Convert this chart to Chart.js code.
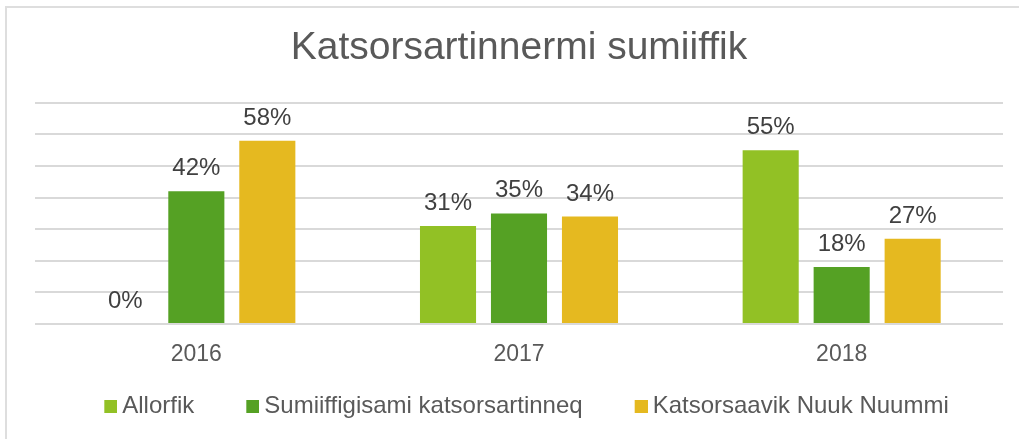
<!DOCTYPE html>
<html>
<head>
<meta charset="utf-8">
<script src="https://cdn.jsdelivr.net/npm/chart.js@4.4.1/dist/chart.umd.min.js"></script>
<style>
  html, body { margin: 0; padding: 0; background: #ffffff; }
  #wrap { position: relative; width: 1019px; height: 439px; overflow: hidden; }
  #frame { position: absolute; left: 5px; top: 6px; width: 1100px; height: 500px; border: 2px solid #dedede; box-sizing: border-box; }
  #c { position: absolute; left: 0; top: 0; }
</style>
</head>
<body>
<div id="wrap">
  <div id="frame"></div>
  <canvas id="c" width="1019" height="439"></canvas>
</div>
<script>
const title = "Katsorsartinnermi sumiiffik";
const categories = ["2016", "2017", "2018"];
const seriesNames = ["Allorfik", "Sumiiffigisami katsorsartinneq", "Katsorsaavik Nuuk Nuummi"];
const allorfik = [0, 31, 55];
const sumiiffigisami = [42, 35, 18];
const nuummi = [58, 34, 27];
const colors = ["#92C125", "#55A124", "#E5B920"];

const FONT = "'Liberation Sans', Arial, sans-serif";
const TEXT = "#595959";
const SLOT = 21, SQ = 13, EXT = 7;

function swatch(color) {
  const cv = document.createElement('canvas');
  cv.width = SLOT + 2 * EXT; cv.height = SQ;
  const g = cv.getContext('2d');
  g.fillStyle = color;
  g.fillRect(cv.width - SQ, 0, SQ, SQ);
  return cv;
}
const swatches = colors.map(swatch);

const valueLabels = {
  id: 'valueLabels',
  afterDatasetsDraw(chart) {
    const ctx = chart.ctx;
    ctx.save();
    ctx.font = "24px " + FONT;
    ctx.fillStyle = "#404040";
    ctx.textAlign = "center";
    ctx.textBaseline = "alphabetic";
    chart.data.datasets.forEach((ds, i) => {
      const meta = chart.getDatasetMeta(i);
      meta.data.forEach((bar, j) => {
        ctx.fillText(ds.data[j] + "%", bar.x, bar.y - 16);
      });
    });
    ctx.restore();
  }
};

new Chart(document.getElementById('c'), {
  type: 'bar',
  data: {
    labels: categories,
    datasets: [
      { label: seriesNames[0], data: allorfik, backgroundColor: colors[0] },
      { label: seriesNames[1], data: sumiiffigisami, backgroundColor: colors[1] },
      { label: seriesNames[2], data: nuummi, backgroundColor: colors[2] }
    ]
  },
  options: {
    responsive: false,
    animation: false,
    devicePixelRatio: 1,
    layout: { padding: { left: 35, right: 16, top: 0, bottom: 10.5 } },
    datasets: { bar: { categoryPercentage: 0.66, barPercentage: 0.79 } },
    scales: {
      x: {
        grid: { display: false, drawTicks: false },
        border: { display: false },
        ticks: { color: TEXT, font: { family: FONT, size: 23 }, padding: 17 }
      },
      y: {
        min: 0, max: 70,
        ticks: { display: false, stepSize: 10 },
        grid: { color: "#d9d9d9", lineWidth: 2, drawTicks: false },
        border: { display: false }
      }
    },
    plugins: {
      title: {
        display: true, text: title, color: TEXT,
        font: { family: FONT, size: 39, weight: 'normal' },
        padding: { top: 25, bottom: 31 }
      },
      legend: {
        position: 'bottom',
        title: { display: true, text: '', font: { size: 1, lineHeight: 1.2 }, padding: { top: -29.3, bottom: 0 } },
        labels: {
          color: TEXT, font: { family: FONT, size: 24 },
          usePointStyle: true, pointStyleWidth: SLOT, boxHeight: SQ,
          padding: 37,
          generateLabels(chart) {
            const items = Chart.defaults.plugins.legend.labels.generateLabels(chart);
            items.forEach(it => { it.pointStyle = swatches[it.datasetIndex]; });
            return items;
          }
        }
      },
      tooltip: { enabled: false }
    }
  },
  plugins: [valueLabels]
});
</script>
</body>
</html>
